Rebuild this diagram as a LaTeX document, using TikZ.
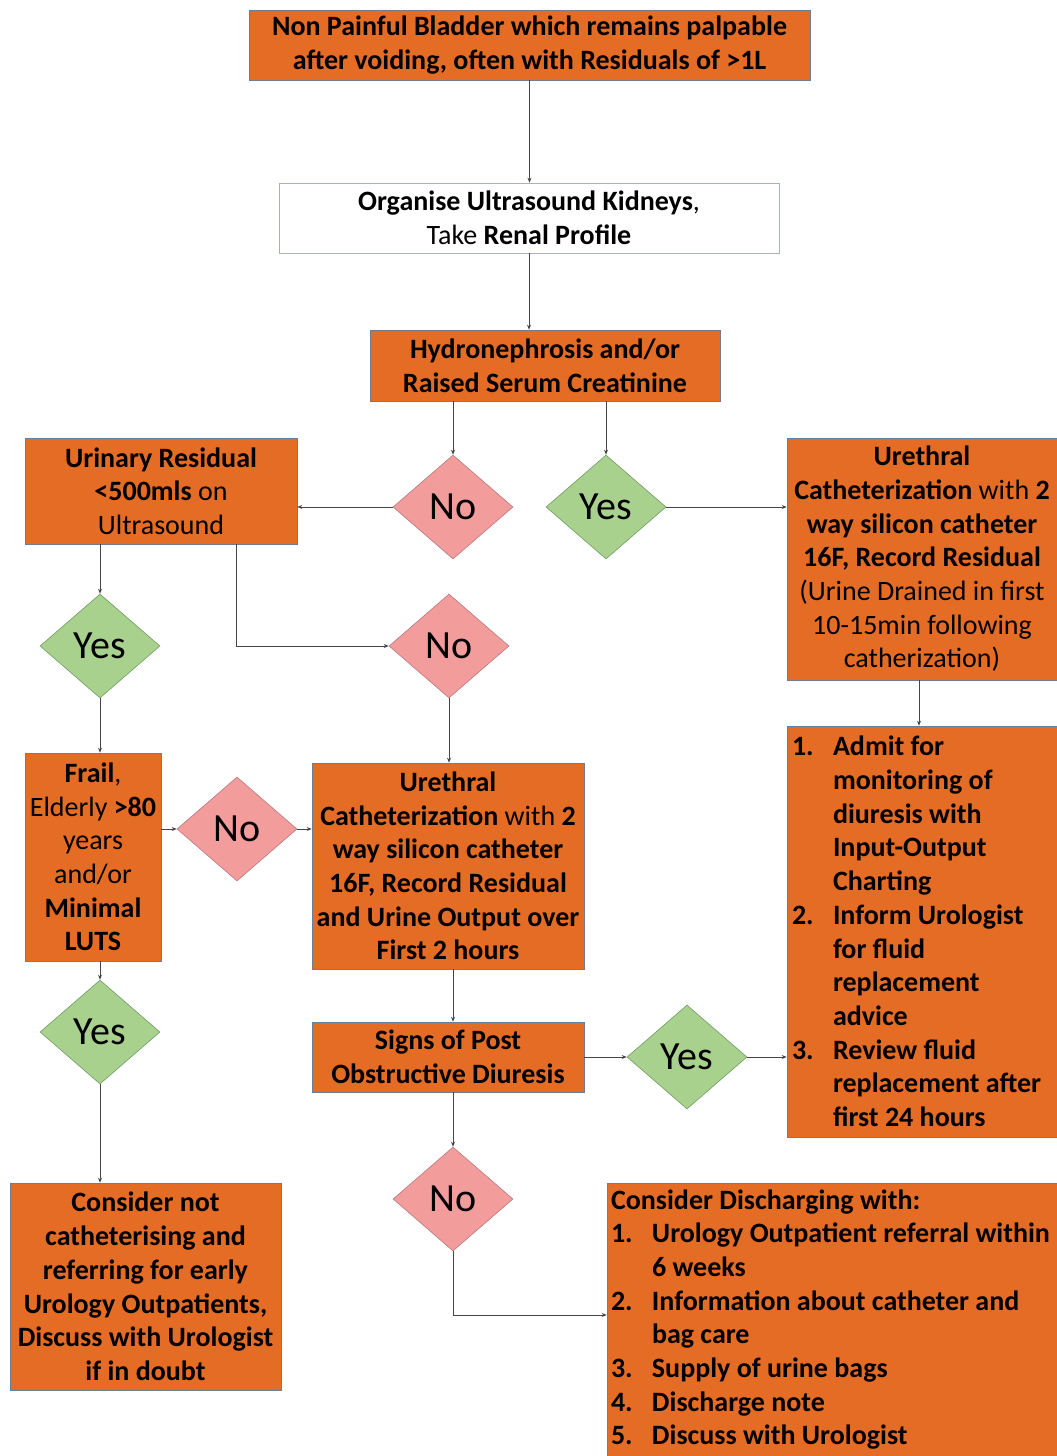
\documentclass[tikz,border=0pt]{standalone}
\usepackage{fontspec}
\setmainfont{Carlito}
\usetikzlibrary{shapes.geometric,arrows.meta}
\definecolor{boxorange}{RGB}{229,108,36}
\definecolor{boxedge}{RGB}{110,125,150}
\definecolor{nopink}{RGB}{242,156,156}
\definecolor{noedge}{RGB}{185,120,128}
\definecolor{yesgreen}{RGB}{168,209,142}
\definecolor{yesedge}{RGB}{115,155,100}
\definecolor{linkgray}{RGB}{70,70,70}
\newcommand{\listnum}[1]{\makebox[41pt][l]{#1}}
\newcommand{\listgap}{\hspace*{41pt}}
\begin{document}
\begin{tikzpicture}[x=1pt,y=-1pt,
    every node/.style={font=\fontsize{28}{33.7}\selectfont, align=center, inner sep=0pt},
    box/.style={draw=boxedge, fill=boxorange, line width=0.6pt},
    plain/.style={draw=boxedge!60, fill=white, line width=0.6pt},
    nobox/.style={diamond, draw=noedge, fill=nopink, line width=0.6pt,
      minimum width=120pt, minimum height=104pt, font=\fontsize{40}{44}\selectfont},
    yesbox/.style={diamond, draw=yesedge, fill=yesgreen, line width=0.6pt,
      minimum width=120pt, minimum height=104pt, font=\fontsize{40}{44}\selectfont},
    link/.style={draw=linkgray, line width=0.7pt, -{Stealth[length=5pt,width=4pt]}}]
  \useasboundingbox (0,0) rectangle (1057,1456);
  \node[box, minimum width=561pt, minimum height=70pt] (bladder) at (529.5,45)
    {\textbf{Non Painful Bladder which remains palpable}\\
     \textbf{after voiding, often with Residuals of >1L}};
  \node[plain, minimum width=500pt, minimum height=70pt] (scan) at (529,218)
    {\textbf{Organise Ultrasound Kidneys},\\Take \textbf{Renal Profile}};
  \node[box, minimum width=350pt, minimum height=71pt] (hydro) at (545,365.5)
    {\textbf{Hydronephrosis and/or}\\\textbf{Raised Serum Creatinine}};
  \node[nobox] (no1) at (453,507) {No};
  \node[yesbox] (yes1) at (606,507) {Yes};
  \node[box, minimum width=272pt, minimum height=106pt] (resid) at (161,491)
    {\textbf{Urinary Residual}\\\textbf{<500mls} on\\Ultrasound};
  \node[box, minimum width=270pt, minimum height=242pt] (cathR) at (922,559)
    {\textbf{Urethral}\\
     \textbf{Catheterization} with \textbf{2}\\
     \textbf{way silicon catheter}\\
     \textbf{16F, Record Residual}\\
     (Urine Drained in first\\
     10-15min following\\
     catherization)};
  \node[yesbox] (yes2) at (100,646) {Yes};
  \node[nobox] (no2) at (449,646) {No};
  \node[box, minimum width=136pt, minimum height=208pt] (frail) at (93,857)
    {\textbf{Frail},\\Elderly \textbf{>80}\\years\\and/or\\\textbf{Minimal}\\\textbf{LUTS}};
  \node[nobox] (no3) at (237,829) {No};
  \node[box, minimum width=272pt, minimum height=206pt] (cathM) at (448,866)
    {\textbf{Urethral}\\
     \textbf{Catheterization} with \textbf{2}\\
     \textbf{way silicon catheter}\\
     \textbf{16F, Record Residual}\\
     \textbf{and Urine Output over}\\
     \textbf{First 2 hours}};
  \node[yesbox] (yes3) at (100,1032) {Yes};
  \node[box, minimum width=271pt, minimum height=207pt] (refer) at (145.5,1286.5)
    {\textbf{Consider not}\\
     \textbf{catheterising and}\\
     \textbf{referring for early}\\
     \textbf{Urology Outpatients,}\\
     \textbf{Discuss with Urologist}\\
     \textbf{if in doubt}};
  \node[box, minimum width=272pt, minimum height=70pt] (pod) at (448,1057)
    {\textbf{Signs of Post}\\\textbf{Obstructive Diuresis}};
  \node[yesbox] (yes4) at (687,1057) {Yes};
  \node[box, minimum width=270pt, minimum height=411pt, text width=260pt, align=left,
    font=\fontsize{28}{33.7}\selectfont\bfseries] (admit) at (922,931.5)
    {\spaceskip=0pt\xspaceskip=0pt
     \listnum{1.}Admit for\\
     \listgap monitoring of\\
     \listgap diuresis with\\
     \listgap Input-Output\\
     \listgap Charting\\
     \listnum{2.}Inform Urologist\\
     \listgap for fluid\\
     \listgap replacement\\
     \listgap advice\\
     \listnum{3.}Review fluid\\
     \listgap replacement after\\
     \listgap first 24 hours};
  \node[nobox] (no4) at (453,1199) {No};
  \node[box, minimum width=450pt, minimum height=273pt, text width=442pt, align=left,
    font=\fontsize{28}{33.7}\selectfont\bfseries] (discharge) at (832,1319.5)
    {\spaceskip=0pt\xspaceskip=0pt
     Consider Discharging with:\\
     \listnum{1.}Urology Outpatient referral within\\
     \listgap 6 weeks\\
     \listnum{2.}Information about catheter and\\
     \listgap bag care\\
     \listnum{3.}Supply of urine bags\\
     \listnum{4.}Discharge note\\
     \listnum{5.}Discuss with Urologist};
  % connectors
  \draw[link] (bladder.south) -- (bladder.south |- scan.north);
  \draw[link] (scan.south) -- (scan.south |- hydro.north);
  \draw[link] (no1.north |- hydro.south) -- (no1.north);
  \draw[link] (yes1.north |- hydro.south) -- (yes1.north);
  \draw[link] (no1.west) -- (no1.west -| resid.east);
  \draw[link] (yes1.east) -- (yes1.east -| cathR.west);
  \draw[link] (yes2.north |- resid.south) -- (yes2.north);
  \draw[link] ([xshift=75pt]resid.south) |- (no2.west);
  \draw[link] (yes2.south) -- (yes2.south |- frail.north);
  \draw[link] (frail.east |- no3.west) -- (no3.west);
  \draw[link] (no3.east) -- (no3.east -| cathM.west);
  \draw[link] (no2.south) -- (no2.south |- cathM.north);
  \draw[link] (yes3.north |- frail.south) -- (yes3.north);
  \draw[link] (yes3.south) -- (yes3.south |- refer.north);
  \draw[link] (cathM.south -| no4.north) -- (pod.north -| no4.north);
  \draw[link] (pod.east) -- (yes4.west);
  \draw[link] (yes4.east) -- (yes4.east -| admit.west);
  \draw[link] ([xshift=-3pt]cathR.south) -- ([xshift=-3pt]cathR.south |- admit.north);
  \draw[link] (no4.north |- pod.south) -- (no4.north);
  \draw[link] (no4.south) |- ([yshift=4.5pt]discharge.west);
\end{tikzpicture}
\end{document}
